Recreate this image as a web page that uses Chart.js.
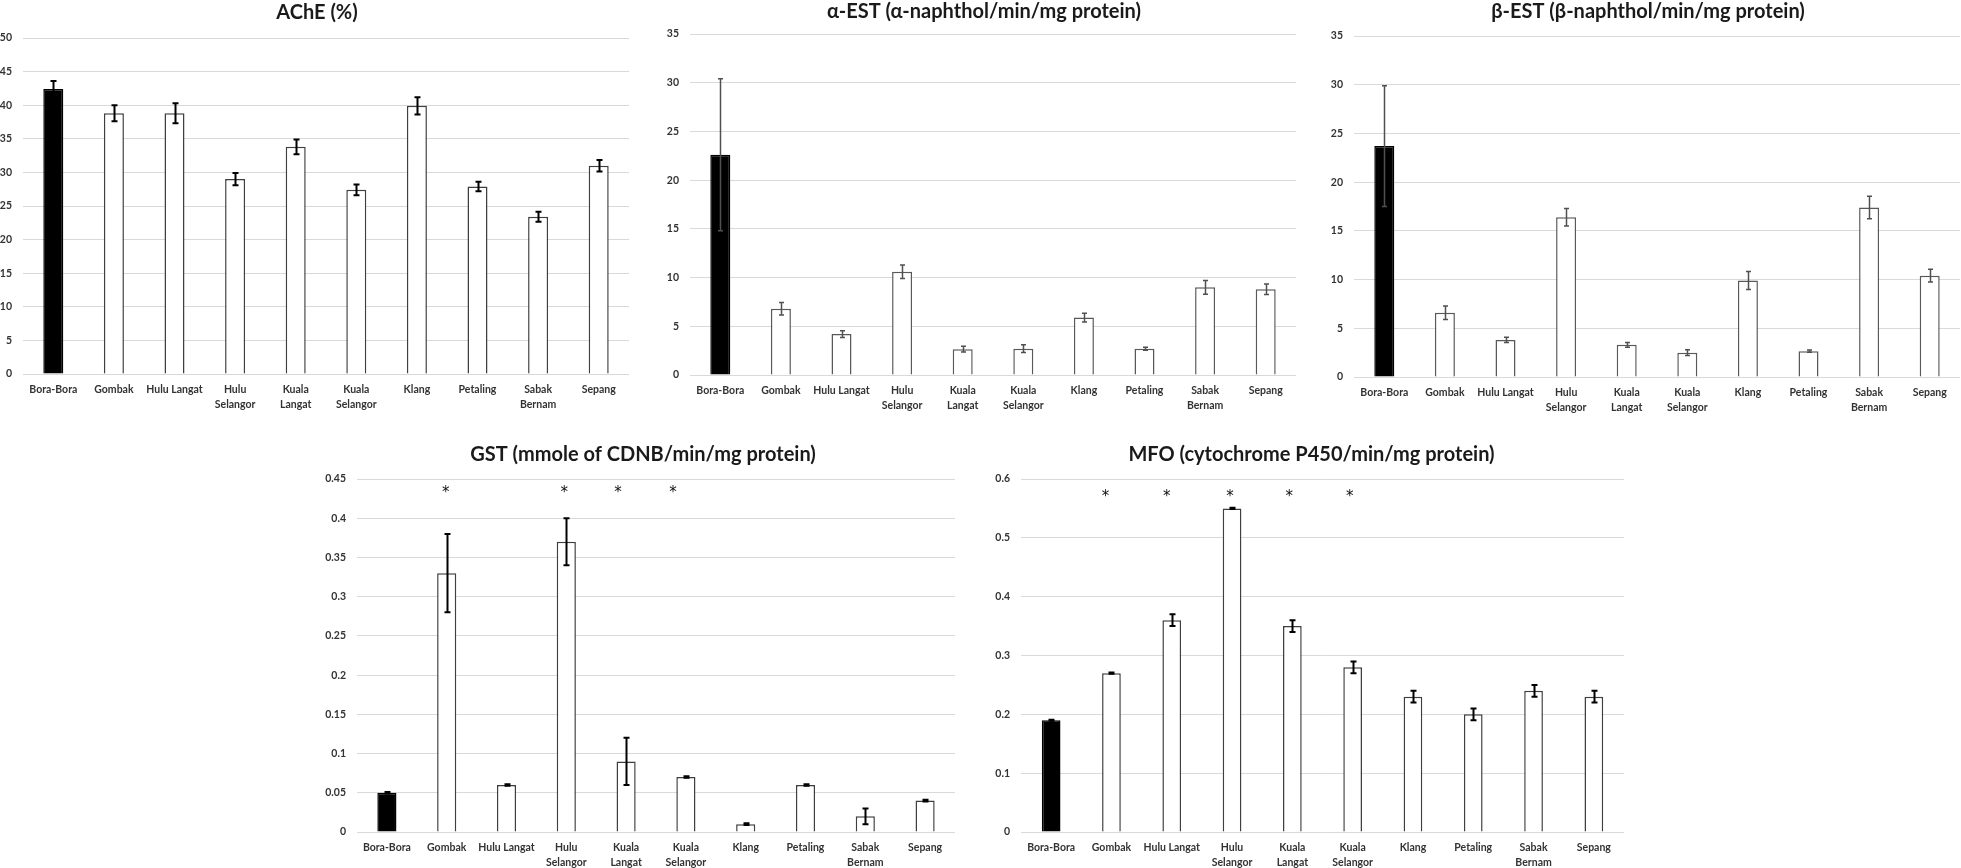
<!DOCTYPE html>
<html>
<head>
<meta charset="utf-8">
<script src="https://cdn.jsdelivr.net/npm/chart.js@4.4.1/dist/chart.umd.min.js"></script>
<style>
  html, body { margin: 0; padding: 0; background: #ffffff; overflow: hidden; }
  body { width: 1961px; height: 868px; position: relative; }
  canvas { position: absolute; }
</style>
</head>
<body>
<canvas id="c1"></canvas>
<canvas id="c2"></canvas>
<canvas id="c3"></canvas>
<canvas id="c4"></canvas>
<canvas id="c5"></canvas>
<script>
// ---------- DATA ----------
const categories = ["Bora-Bora", "Gombak", "Hulu Langat", "Hulu Selangor", "Kuala Langat",
                    "Kuala Selangor", "Klang", "Petaling", "Sabak Bernam", "Sepang"];
const tickLabels = ["Bora-Bora", "Gombak", "Hulu Langat", ["Hulu", "Selangor"], ["Kuala", "Langat"],
                    ["Kuala", "Selangor"], "Klang", "Petaling", ["Sabak", "Bernam"], "Sepang"];

const acheMean = [42.4, 38.8, 38.8, 29.0, 33.8, 27.4, 39.9, 27.9, 23.4, 31.0];
const acheErr  = [1.2, 1.2, 1.5, 0.9, 1.1, 0.8, 1.3, 0.7, 0.75, 0.85];

const aestMean = [22.6, 6.8, 4.2, 10.6, 2.65, 2.7, 5.9, 2.7, 9.0, 8.8];
const aestErr  = [7.8, 0.65, 0.35, 0.7, 0.3, 0.4, 0.45, 0.15, 0.7, 0.55];

const bestMean = [23.7, 6.6, 3.8, 16.4, 3.3, 2.5, 9.9, 2.65, 17.4, 10.4];
const bestErr  = [6.2, 0.7, 0.27, 0.9, 0.25, 0.3, 0.93, 0.12, 1.15, 0.65];

const gstMean = [0.05, 0.33, 0.06, 0.37, 0.09, 0.07, 0.01, 0.06, 0.02, 0.04];
const gstErr  = [0.001, 0.05, 0.001, 0.03, 0.03, 0.001, 0.001, 0.001, 0.01, 0.001];

const mfoMean = [0.19, 0.27, 0.36, 0.55, 0.35, 0.28, 0.23, 0.20, 0.24, 0.23];
const mfoErr  = [0.001, 0.001, 0.01, 0.001, 0.01, 0.01, 0.01, 0.01, 0.01, 0.01];

// significance markers (category names marked with *)
const gstSignificant = ["Gombak", "Hulu Selangor", "Kuala Langat", "Kuala Selangor"];
const mfoSignificant = ["Gombak", "Hulu Langat", "Hulu Selangor", "Kuala Langat", "Kuala Selangor"];

// axis ranges
const acheAxis = { max: 50, step: 5 };
const aestAxis = { max: 35, step: 5 };
const bestAxis = { max: 35, step: 5 };
const gstAxis  = { max: 0.45, step: 0.05 };
const mfoAxis  = { max: 0.6, step: 0.1 };

// ---------- PLUGINS ----------
const FONT = "Lato, 'Open Sans', 'Liberation Sans', sans-serif";

const errorBarPlugin = {
  id: 'errbars',
  afterDatasetsDraw(chart, args, opts) {
    if (!opts || !opts.errors) return;
    const meta = chart.getDatasetMeta(0);
    const ys = chart.scales.y;
    const ctx = chart.ctx;
    const vals = chart.data.datasets[0].data;
    ctx.save();
    ctx.strokeStyle = opts.color;
    ctx.lineWidth = opts.width;
    meta.data.forEach((bar, i) => {
      const v = vals[i], e = opts.errors[i];
      const x = Math.round(bar.x) + 0.5;
      const yt = ys.getPixelForValue(v + e);
      const yb = ys.getPixelForValue(v - e);
      ctx.beginPath();
      ctx.moveTo(x, yt); ctx.lineTo(x, yb);
      ctx.moveTo(x - opts.cap, yt); ctx.lineTo(x + opts.cap, yt);
      ctx.moveTo(x - opts.cap, yb); ctx.lineTo(x + opts.cap, yb);
      ctx.stroke();
    });
    ctx.restore();
  }
};

const titlePlugin = {
  id: 'ptitle',
  afterDraw(chart, args, opts) {
    if (!opts || !opts.text) return;
    const a = chart.chartArea, ctx = chart.ctx;
    ctx.save();
    ctx.font = opts.font;
    ctx.fillStyle = '#1a1a1a';
    ctx.textAlign = 'center';
    ctx.textBaseline = 'middle';
    ctx.fillText(opts.text, (a.left + a.right) / 2 + opts.dx, a.top - opts.dy);
    ctx.restore();
  }
};

const starPlugin = {
  id: 'stars',
  afterDraw(chart, args, opts) {
    if (!opts || !opts.names) return;
    const xs = chart.scales.x, ys = chart.scales.y, ctx = chart.ctx;
    ctx.save();
    ctx.font = opts.font;
    ctx.fillStyle = '#111';
    ctx.textAlign = 'center';
    ctx.textBaseline = 'middle';
    opts.names.forEach((n, k) => {
      const idx = categories.indexOf(n);
      const x = xs.getPixelForValue(idx) + (opts.dx[k] || 0);
      const y = ys.getPixelForValue(opts.yValue) + opts.dy;
      ctx.fillText('*', x, y);
    });
    ctx.restore();
  }
};

Chart.register(errorBarPlugin, titlePlugin, starPlugin);

// ---------- BUILDER ----------
const Y_W = 45, X_H = 45, TOP = 42, RIGHT = 1;

function fmt(v) { return String(+v.toFixed(3)); }

function build(id, plot, cfg) {
  const cv = document.getElementById(id);
  const w = Math.round(plot.right - plot.left) + Y_W + RIGHT;
  const h = Math.round(plot.bottom - plot.top) + TOP + X_H;
  cv.width = w; cv.height = h;
  cv.style.width = w + 'px'; cv.style.height = h + 'px';
  cv.style.left = Math.round(plot.left - Y_W) + 'px';
  cv.style.top = Math.round(plot.top - TOP) + 'px';

  const colors = categories.map((c, i) => i === 0 ? '#000000' : '#ffffff');
  const borders = categories.map((c, i) => i === 0 ? '#000000' : cfg.barBorder);

  return new Chart(cv, {
    type: 'bar',
    data: {
      labels: tickLabels,
      datasets: [{
        data: cfg.mean,
        backgroundColor: colors,
        borderColor: borders,
        borderWidth: 1.5,
        categoryPercentage: 1.0,
        barPercentage: cfg.barPct
      }]
    },
    options: {
      responsive: false,
      animation: false,
      devicePixelRatio: 1,
      layout: { padding: { top: TOP, right: RIGHT, left: 0, bottom: 0 } },
      plugins: {
        legend: { display: false },
        tooltip: { enabled: false },
        title: { display: false },
        errbars: { errors: cfg.err, color: cfg.errColor, width: cfg.errWidth, cap: cfg.cap },
        ptitle: { text: cfg.title, dx: cfg.titleDx, dy: cfg.titleDy, font: 'bold 20px ' + FONT },
        stars: cfg.stars || {}
      },
      scales: {
        x: {
          grid: { display: false, drawTicks: false },
          border: { display: false },
          ticks: {
            color: '#333333',
            font: { family: FONT, size: 10.5, weight: 'bold', lineHeight: 1.45 },
            padding: 8,
            maxRotation: 0,
            autoSkip: false
          },
          afterFit(s) { s.height = X_H; }
        },
        y: {
          min: 0,
          max: cfg.axis.max,
          grid: { color: '#d9d9d9', lineWidth: 1, drawTicks: false },
          border: { display: false },
          ticks: {
            stepSize: cfg.axis.step,
            color: '#333333',
            font: { family: FONT, size: 10.5, weight: 'bold' },
            padding: 11,
            callback: (v) => fmt(v)
          },
          afterFit(s) { s.width = Y_W; }
        }
      }
    }
  });
}

const STAR_FONT = "15px 'DejaVu Sans', sans-serif";

build('c1', { left: 23, top: 38, right: 629, bottom: 374 }, {
  mean: acheMean, err: acheErr, axis: acheAxis, title: 'AChE (%)', titleDx: -9, titleDy: 25,
  barBorder: '#3f3f3f', barPct: 0.33, errColor: '#000000', errWidth: 2, cap: 3
});
build('c2', { left: 690, top: 34, right: 1296, bottom: 375 }, {
  mean: aestMean, err: aestErr, axis: aestAxis, title: 'α-EST (α-naphthol/min/mg protein)', titleDx: -9, titleDy: 22,
  barBorder: '#595959', barPct: 0.33, errColor: '#505050', errWidth: 1.5, cap: 2.5
});
build('c3', { left: 1354, top: 36, right: 1960, bottom: 377 }, {
  mean: bestMean, err: bestErr, axis: bestAxis, title: 'β-EST (β-naphthol/min/mg protein)', titleDx: -9, titleDy: 24,
  barBorder: '#595959', barPct: 0.33, errColor: '#505050', errWidth: 1.5, cap: 2.5
});
build('c4', { left: 357, top: 479, right: 955, bottom: 832 }, {
  mean: gstMean, err: gstErr, axis: gstAxis, title: 'GST (mmole of CDNB/min/mg protein)', titleDx: -13, titleDy: 24,
  barBorder: '#3f3f3f', barPct: 0.32, errColor: '#000000', errWidth: 2, cap: 3,
  stars: { names: gstSignificant, dx: [-1, -2, -8, -13], yValue: 0.438, dy: 5, font: STAR_FONT }
});
build('c5', { left: 1021, top: 479, right: 1624, bottom: 832 }, {
  mean: mfoMean, err: mfoErr, axis: mfoAxis, title: 'MFO (cytochrome P450/min/mg protein)', titleDx: -11, titleDy: 24,
  barBorder: '#3f3f3f', barPct: 0.31, errColor: '#000000', errWidth: 2, cap: 3,
  stars: { names: mfoSignificant, dx: [-6, -5, -2, -3, -3], yValue: 0.578, dy: 5, font: STAR_FONT }
});
</script>
</body>
</html>
